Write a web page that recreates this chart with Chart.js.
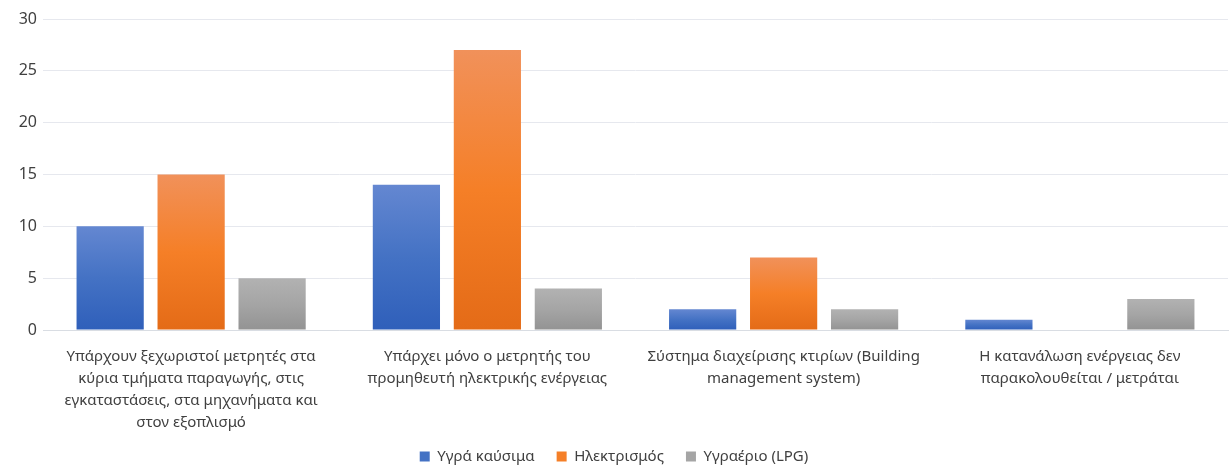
<!DOCTYPE html>
<html lang="el">
<head>
<meta charset="utf-8">
<script src="https://cdn.jsdelivr.net/npm/chart.js@4"></script>
<style>
  html, body { margin: 0; padding: 0; background: #fff; }
  .chart-area { width: 1232px; height: 466px; }
</style>
</head>
<body>
<div class="chart-area">
  <canvas id="energy-chart"></canvas>
</div>
<script>
  const categories = [
    ['Υπάρχουν ξεχωριστοί μετρητές στα', 'κύρια τμήματα παραγωγής, στις', 'εγκαταστάσεις, στα μηχανήματα και', 'στον εξοπλισμό'],
    ['Υπάρχει μόνο ο μετρητής του', 'προμηθευτή ηλεκτρικής ενέργειας'],
    ['Σύστημα διαχείρισης κτιρίων (Building', 'management system)'],
    ['Η κατανάλωση ενέργειας δεν', 'παρακολουθείται / μετράται']
  ];
  const seriesNames = ['Υγρά καύσιμα', 'Ηλεκτρισμός', 'Υγραέριο (LPG)'];
  const liquidFuel = [10, 14, 2, 1];
  const electricity = [15, 27, 7, 0];
  const lpg = [5, 4, 2, 3];
  const yTicks = [0, 5, 10, 15, 20, 25, 30];

  // top / middle / bottom colours of the excel-like gradients
  const gradStops = [
    ['#6487d1', '#4472c4', '#2f5fba'],
    ['#f1915a', '#f57f27', '#e46b17'],
    ['#b2b2b2', '#a5a5a5', '#939393']
  ];

  function barGradient(stops) {
    return function (ctx) {
      const chart = ctx.chart;
      if (!chart.chartArea || ctx.type !== 'data') return stops[1];
      const y = chart.scales.y;
      const top = y.getPixelForValue(ctx.raw);
      const base = y.getPixelForValue(0);
      if (!isFinite(top) || base - top < 1) return stops[1];
      const g = chart.ctx.createLinearGradient(0, top, 0, base);
      g.addColorStop(0, stops[0]);
      g.addColorStop(0.5, stops[1]);
      g.addColorStop(1, stops[2]);
      return g;
    };
  }

  // the legend box keeps 10px of slack under its row; move the row into it
  const legendNudge = {
    id: 'legendNudge',
    afterLayout: function (chart) {
      if (chart.legend) {
        chart.legend.top += 8;
        chart.legend.bottom += 8;
      }
    }
  };

  const textColor = '#404040';
  const fontFamily = "'Noto Sans', 'DejaVu Sans', sans-serif";

  const chartData = {
    labels: categories,
    datasets: [liquidFuel, electricity, lpg].map(function (vals, i) {
      return {
        label: seriesNames[i],
        data: vals,
        backgroundColor: barGradient(gradStops[i]),
        categoryPercentage: 0.82,
        barPercentage: 0.83
      };
    })
  };

  const barConfig = {
    type: 'bar',
    data: chartData,
    plugins: [legendNudge],
    options: {
      responsive: true,
      maintainAspectRatio: false,
      animation: false,
      layout: { padding: { top: 19, right: 4, left: 0, bottom: 0 } },
      plugins: {
        tooltip: { enabled: false },
        legend: {
          position: 'bottom',
          labels: {
            color: textColor,
            font: { family: fontFamily, size: 15 },
            boxWidth: 10,
            boxHeight: 10,
            padding: 2,
            generateLabels: function (chart) {
              const n = chart.data.datasets.length;
              return chart.data.datasets.map(function (ds, i) {
                return {
                  // small padding keeps the legend low, spaces widen the item gap
                  text: i < n - 1 ? ds.label + '\u2003\u2004' : ds.label,
                  fillStyle: gradStops[i][1],
                  strokeStyle: gradStops[i][1],
                  lineWidth: 0,
                  fontColor: textColor,
                  datasetIndex: i
                };
              });
            }
          }
        }
      },
      scales: {
        x: {
          grid: { display: false, drawTicks: false },
          border: { color: '#d9dde3' },
          afterFit: function (scale) { scale.height = 109; },
          ticks: {
            color: textColor,
            font: { family: fontFamily, size: 15, lineHeight: 1.46 },
            maxRotation: 0,
            autoSkip: false,
            padding: 16
          }
        },
        y: {
          min: 0,
          max: 30,
          afterBuildTicks: function (scale) {
            scale.ticks = yTicks.map(function (v) { return { value: v }; });
          },
          afterFit: function (scale) { scale.width = 43; },
          grid: { color: '#e6e8ee', drawTicks: false },
          border: { display: false },
          ticks: {
            color: textColor,
            font: { family: fontFamily, size: 16 },
            padding: 6
          }
        }
      }
    }
  };

  new Chart(document.getElementById('energy-chart').getContext('2d'), barConfig);
</script>
</body>
</html>
